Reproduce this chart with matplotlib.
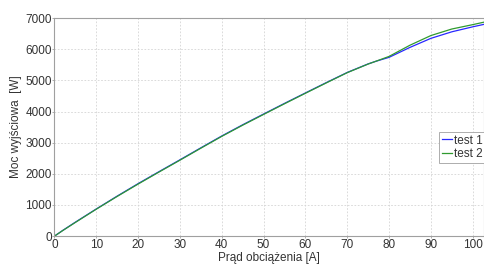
import matplotlib as mpl
mpl.use('AGG')
import matplotlib.pyplot as plt
import numpy as np

mpl.rc('font', **{'family': 'sans-serif', 'sans-serif': ['Liberation Sans', 'DejaVu Sans'], 'size': 8.5})

# odczyty z wykresu
prad_1 = [0, 2, 5, 10, 15, 20, 25, 30, 35, 40, 45, 50, 55, 60, 65, 70, 75, 77, 80, 85, 90, 95, 100, 102.7]
moc_1 = [0, 185, 448, 872, 1285, 1685, 2070, 2450, 2835, 3215, 3575, 3920, 4262, 4597, 4930, 5255, 5530, 5620, 5740, 6060, 6350, 6560, 6720, 6800]

prad_2 = [0, 2, 5, 10, 15, 20, 25, 30, 35, 40, 45, 50, 55, 60, 65, 70, 75, 77, 80, 85, 90, 95, 100, 102.7]
moc_2 = [0, 180, 440, 865, 1275, 1672, 2058, 2438, 2823, 3203, 3562, 3907, 4250, 4587, 4920, 5248, 5525, 5622, 5770, 6130, 6440, 6650, 6790, 6870]

etykiety = ['test 1', 'test 2']

fig = plt.figure(figsize=(4.84, 2.64), dpi=100)
ax = fig.add_axes([0.1126, 0.1057, 0.8874, 0.8257])

ax.plot(prad_1, moc_1, color='#2828ff', lw=0.9, label=etykiety[0])
ax.plot(prad_2, moc_2, color='#2f9a2f', lw=0.9, label=etykiety[1])

ax.set_xlim(0, 102.7)
ax.set_ylim(0, 7000)
ax.set_xticks(np.arange(0, 101, 10))
ax.set_yticks(np.arange(0, 7001, 1000))

ax.grid(True, which='major', color='#d4d4d4', linestyle=(0, (2, 2)), linewidth=0.6)
ax.set_axisbelow(True)
for s in ['left', 'bottom', 'top', 'right']:
    ax.spines[s].set_color('#a0a0a0')
    ax.spines[s].set_linewidth(0.8)
ax.tick_params(direction='out', length=1.5, width=0.6, color='#a0a0a0', labelcolor='#333333', pad=0.5)

ax.set_xlabel('Prąd obciążenia [A]', color='#333333', labelpad=1)
ax.set_ylabel('Moc wyjściowa  [W]', color='#333333', labelpad=2)

l = ax.legend(loc='upper right', bbox_to_anchor=(1.004, 0.479), borderaxespad=0, fancybox=False,
              edgecolor='#a0a0a0', framealpha=1, handlelength=0.9, handletextpad=0.15,
              borderpad=0.25, labelspacing=0.15, prop={'size': 8.5})
l.get_frame().set_linewidth(0.6)
for t in l.get_texts():
    t.set_color('#333333')

plt.savefig('out.png', dpi=100)
